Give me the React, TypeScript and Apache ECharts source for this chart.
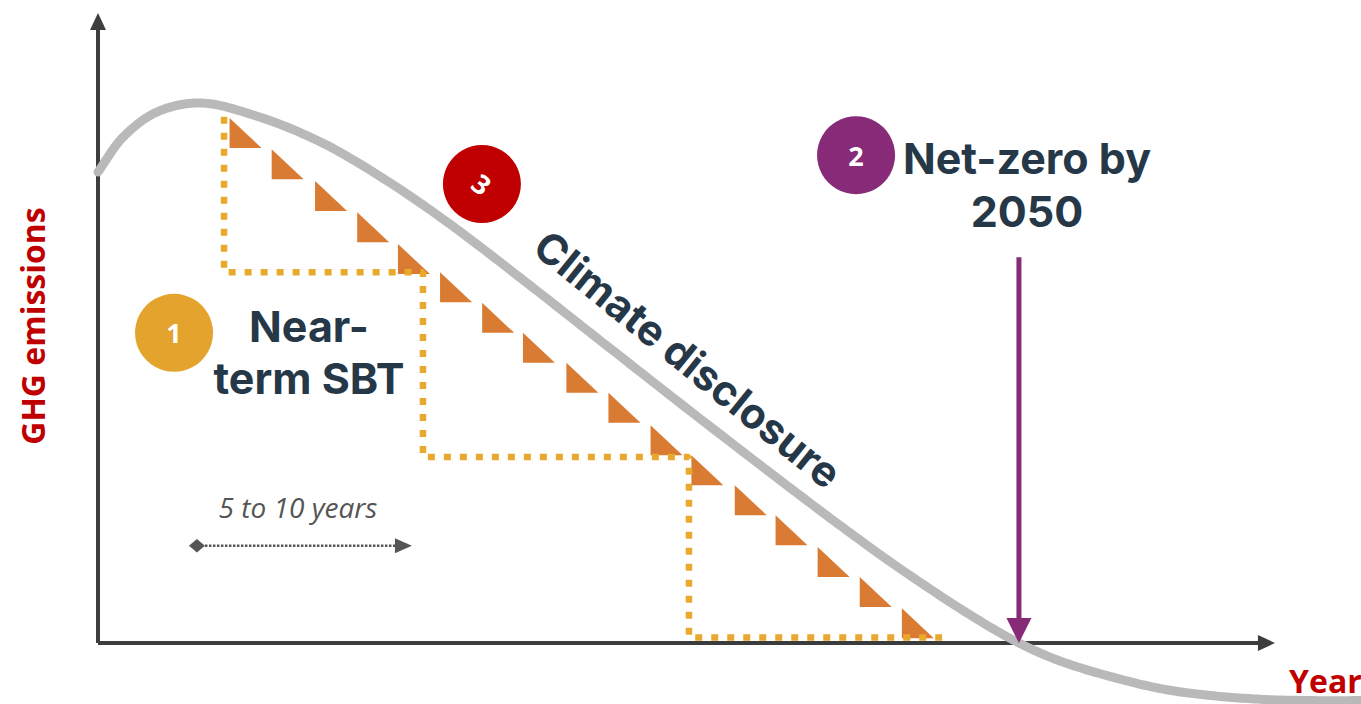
import React, { useEffect, useRef } from "react";
import * as echarts from "echarts";

// ---- scale ranges (years on x, emissions index on y) ----
const X_MIN = 2015;
const X_MAX = 2063;
const Y_MIN = -10;
const Y_MAX = 106;

// ---- emissions pathway (grey curve) ----
const curveYears = [2015.0, 2015.95, 2017.24, 2018.88, 2021.04, 2023.55, 2026.1, 2028.38, 2031.42, 2034.38, 2037.76, 2041.56, 2043.2, 2045.48, 2048.25, 2050.0, 2051.56, 2053.57, 2055.5, 2057.4, 2059.3, 2061.2, 2063.0];
const curveEmissions = [78.5, 84.3, 88.5, 90.0, 87.8, 83.3, 76.7, 69.8, 59.6, 49.4, 37.8, 25.0, 19.6, 12.4, 4.4, 0, -3.0, -5.7, -7.7, -8.8, -9.4, -9.6, -9.6];

// ---- annual reduction steps (orange triangles, top-left corner) ----
const triYears = [2020.0, 2021.6, 2023.25, 2024.85, 2026.4, 2028.0, 2029.6, 2031.15, 2032.8, 2034.4, 2036.0, 2037.55, 2039.2, 2040.75, 2042.35, 2043.95, 2045.55];
const triTops = [87.5, 82.3, 77.0, 71.8, 66.5, 61.8, 56.7, 51.7, 46.7, 41.7, 36.3, 31.3, 26.3, 21.3, 16.0, 11.0, 5.8];

// ---- near-term target staircase (dotted) ----
const stepYears = [2019.79, 2019.79, 2027.35, 2027.35, 2037.46, 2037.46, 2047.08];
const stepLevels = [87.7, 61.8, 61.8, 31.0, 31.0, 0.9, 0.9];

// ---- arrows [x1, y1, x2, y2] ----
const axisArrows = [
  [2015, 0, 2059.73, 0],
  [2015, 0, 2015, 105],
];
const netZeroArrow = [[2050, 64.3, 2050, 0]];
const spanArrow = [[2018.76, 16.2, 2026.93, 16.2]];

// ---- numbered badges ----
const badgeLabels = ["1", "2", "3"];
const badgeYears = [2017.89, 2043.81, 2029.59];
const badgeLevels = [51.7, 81.3, 76.5];

const FONT = "'Open Sans', 'Noto Sans', sans-serif";
const HEAD_FONT = "Inter, 'Open Sans', sans-serif";
const DARK = "#263847";
const RED = "#C00000";
const BADGE_COLORS = ["#E3A32D", "#872A77", "#C00000"];
const BADGE_ROTATE = [0, 0, -38];

// centripetal Catmull-Rom sampling (rendering only)
function splinePoints(pts: number[][], steps: number): number[][] {
  const out: number[][] = [];
  const n = pts.length;
  const tj = (ti: number, a: number[], b: number[]) =>
    ti + Math.max(Math.pow(Math.hypot(b[0] - a[0], b[1] - a[1]), 0.5), 1e-4);
  for (let i = 0; i < n - 1; i++) {
    const p1 = pts[i];
    const p2 = pts[i + 1];
    const p0 = i > 0 ? pts[i - 1] : [2 * p1[0] - p2[0], 2 * p1[1] - p2[1]];
    const p3 = i < n - 2 ? pts[i + 2] : [2 * p2[0] - p1[0], 2 * p2[1] - p1[1]];
    const t0 = 0;
    const t1 = tj(t0, p0, p1);
    const t2 = tj(t1, p1, p2);
    const t3 = tj(t2, p2, p3);
    for (let s = 0; s < steps; s++) {
      const t = t1 + ((t2 - t1) * s) / steps;
      const lerp = (a: number[], b: number[], ta: number, tb: number) => {
        const wa = (tb - t) / (tb - ta);
        const wb = (t - ta) / (tb - ta);
        return [a[0] * wa + b[0] * wb, a[1] * wa + b[1] * wb];
      };
      const A1 = lerp(p0, p1, t0, t1);
      const A2 = lerp(p1, p2, t1, t2);
      const A3 = lerp(p2, p3, t2, t3);
      const B1 = lerp(A1, A2, t0, t2);
      const B2 = lerp(A2, A3, t1, t3);
      out.push(lerp(B1, B2, t1, t2));
    }
  }
  out.push(pts[n - 1]);
  return out;
}

function arrowSeries(
  name: string,
  data: number[][],
  color: string,
  width: number,
  headLen: number,
  headWidth: number,
  dash: number[] | null,
  diamond: number
) {
  return {
    type: "custom",
    name,
    silent: true,
    clip: false,
    data,
    renderItem: (_params: any, api: any) => {
      const a = api.coord([api.value(0), api.value(1)]);
      const b = api.coord([api.value(2), api.value(3)]);
      const dx = b[0] - a[0];
      const dy = b[1] - a[1];
      const len = Math.hypot(dx, dy);
      const ux = dx / len;
      const uy = dy / len;
      const nx = -uy;
      const ny = ux;
      const base = [b[0] - ux * headLen, b[1] - uy * headLen];
      const start = diamond > 0 ? [a[0] + ux * diamond * 0.5, a[1] + uy * diamond * 0.5] : a;
      const children: any[] = [
        {
          type: "line",
          shape: { x1: start[0], y1: start[1], x2: base[0] + ux, y2: base[1] + uy },
          style: { stroke: color, lineWidth: width, lineDash: dash || undefined, fill: null },
        },
        {
          type: "polygon",
          shape: {
            points: [
              [b[0], b[1]],
              [base[0] + (nx * headWidth) / 2, base[1] + (ny * headWidth) / 2],
              [base[0] - (nx * headWidth) / 2, base[1] - (ny * headWidth) / 2],
            ],
          },
          style: { fill: color },
        },
      ];
      if (diamond > 0) {
        const h = diamond / 2;
        children.push({
          type: "polygon",
          shape: {
            points: [
              [a[0] - h, a[1]],
              [a[0], a[1] - h * 0.85],
              [a[0] + h, a[1]],
              [a[0], a[1] + h * 0.85],
            ],
          },
          style: { fill: color },
        });
      }
      return { type: "group", children };
    },
  };
}

export default function App() {
  const ref = useRef<HTMLDivElement>(null);

  useEffect(() => {
    document.body.style.margin = "0";
    if (!ref.current) return;
    const chart = echarts.init(ref.current, undefined, { renderer: "svg" });

    const curveData = curveYears.map((x, i) => [x, curveEmissions[i]]);
    const triData = triYears.map((x, i) => [x, triTops[i]]);
    const stepData = stepYears.map((x, i) => [x, stepLevels[i]]);
    const badgeData = badgeLabels.map((lab, i) => ({
      name: lab,
      value: [badgeYears[i], badgeLevels[i]],
      itemStyle: { color: BADGE_COLORS[i], opacity: 1 },
      label: { rotate: BADGE_ROTATE[i] },
    }));

    const TRI_W = 32;
    const TRI_H = 30;

    const option: any = {
      animation: false,
      backgroundColor: "#ffffff",
      grid: { left: 98, right: 0, top: 7, bottom: 1, containLabel: false },
      xAxis: { type: "value", min: X_MIN, max: X_MAX, show: false },
      yAxis: { type: "value", min: Y_MIN, max: Y_MAX, show: false },
      series: [
        arrowSeries("axes", axisArrows, "#3d3d3d", 4, 17, 16, null, 0),
        {
          type: "custom",
          name: "pathway",
          silent: true,
          clip: false,
          data: curveData,
          renderItem: (params: any, api: any) => {
            if (params.dataIndex !== 0) return null;
            const pix = curveData.map((d) => api.coord(d));
            return {
              type: "polyline",
              shape: { points: splinePoints(pix, 16) },
              style: { stroke: "#B9B9B9", lineWidth: 9, fill: null, lineCap: "round", lineJoin: "round" },
            };
          },
        },
        {
          type: "line",
          name: "steps",
          data: stepData,
          symbol: "none",
          silent: true,
          clip: false,
          lineStyle: { color: "#E9A92C", width: 6.5, type: [7, 9] },
        },
        {
          type: "custom",
          name: "reductions",
          silent: true,
          clip: false,
          data: triData,
          renderItem: (_p: any, api: any) => {
            const p = api.coord([api.value(0), api.value(1)]);
            return {
              type: "polygon",
              shape: {
                points: [
                  [p[0], p[1]],
                  [p[0], p[1] + TRI_H],
                  [p[0] + TRI_W, p[1] + TRI_H],
                ],
              },
              style: { fill: "#DA7B33" },
            };
          },
        },
        arrowSeries("netzero", netZeroArrow, "#872A77", 5, 25, 25, null, 0),
        arrowSeries("span", spanArrow, "#555555", 2.5, 17, 15, [2.5, 1.5], 16),
        {
          type: "scatter",
          name: "badges",
          silent: true,
          symbol: "circle",
          symbolSize: 78,
          itemStyle: { opacity: 1 },
          data: badgeData,
          label: {
            show: true,
            position: "inside",
            formatter: "{b}",
            color: "#ffffff",
            fontFamily: FONT,
            fontWeight: "bold",
            fontSize: 27,
          },
        },
      ],
      graphic: [
        {
          type: "text",
          x: 309,
          y: 352,
          style: {
            text: "Near-\nterm SBT",
            fill: DARK,
            font: `bold 43px ${HEAD_FONT}`,
            lineHeight: 52,
            textAlign: "center",
            textVerticalAlign: "middle",
          },
        },
        {
          type: "text",
          x: 1027,
          y: 184,
          style: {
            text: "Net-zero by\n2050",
            fill: DARK,
            font: `bold 43px ${HEAD_FONT}`,
            lineHeight: 53,
            textAlign: "center",
            textVerticalAlign: "middle",
          },
        },
        {
          type: "text",
          x: 688,
          y: 359,
          rotation: (-39 * Math.PI) / 180,
          style: { text: "Climate disclosure", fill: DARK, font: `bold 42px ${HEAD_FONT}`, textAlign: "center", textVerticalAlign: "middle" },
        },
        {
          type: "text",
          x: 298,
          y: 507,
          style: { text: "5 to 10 years", fill: "#555555", font: `italic 28px ${FONT}`, textAlign: "center", textVerticalAlign: "middle" },
        },
        {
          type: "text",
          x: 32,
          y: 326,
          rotation: Math.PI / 2,
          style: { text: "GHG emissions", fill: RED, font: `bold 32px ${FONT}`, textAlign: "center", textVerticalAlign: "middle" },
        },
        {
          type: "text",
          x: 1289,
          y: 680,
          style: { text: "Year", fill: RED, font: `bold 32px ${FONT}`, textAlign: "left", textVerticalAlign: "middle" },
        },
      ],
    };

    chart.setOption(option);
    return () => chart.dispose();
  }, []);

  return <div ref={ref} style={{ width: 1361, height: 704, overflow: "hidden" }} />;
}
